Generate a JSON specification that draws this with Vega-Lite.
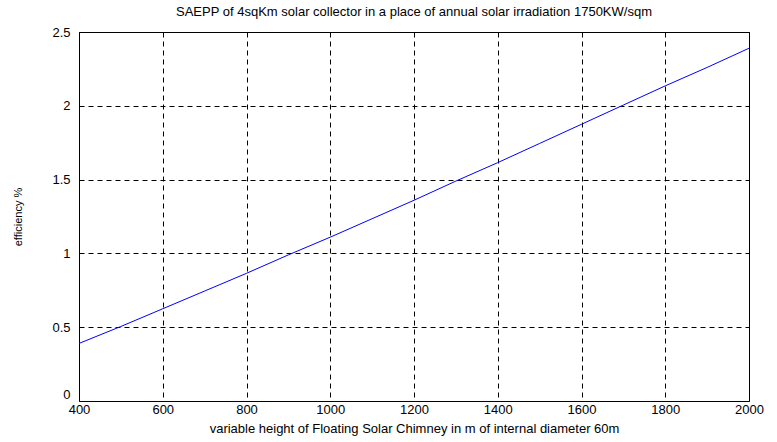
{
  "$schema": "https://vega.github.io/schema/vega-lite/v6.json",
  "width": 670,
  "height": 369,
  "autosize": "none",
  "padding": {"left": 79, "top": 32, "right": 28, "bottom": 41},
  "background": "white",
  "title": {
    "text": "SAEPP of 4sqKm  solar collector in a place of annual solar irradiation 1750KW/sqm",
    "font": "Liberation Sans",
    "fontSize": 13,
    "fontWeight": "normal",
    "color": "black",
    "anchor": "middle",
    "baseline": "bottom",
    "offset": -6
  },
  "config": {
    "view": {"stroke": "black", "strokeWidth": 1}
  },
  "data": {
    "values": [
      {"h": 400, "eff": 0.39},
      {"h": 500, "eff": 0.505},
      {"h": 600, "eff": 0.625},
      {"h": 700, "eff": 0.745},
      {"h": 800, "eff": 0.865},
      {"h": 900, "eff": 0.99},
      {"h": 1000, "eff": 1.11},
      {"h": 1100, "eff": 1.235},
      {"h": 1200, "eff": 1.36},
      {"h": 1300, "eff": 1.49},
      {"h": 1400, "eff": 1.615},
      {"h": 1500, "eff": 1.745},
      {"h": 1600, "eff": 1.875},
      {"h": 1700, "eff": 2.005},
      {"h": 1800, "eff": 2.135},
      {"h": 1900, "eff": 2.26},
      {"h": 2000, "eff": 2.39}
    ]
  },
  "mark": {"type": "line", "color": "#0000ff", "strokeWidth": 1, "clip": true},
  "encoding": {
    "x": {
      "field": "h",
      "type": "quantitative",
      "scale": {"domain": [400, 2000], "nice": false, "zero": false},
      "axis": {
        "title": "variable height of Floating Solar Chimney in m  of internal diameter 60m",
        "values": [400, 600, 800, 1000, 1200, 1400, 1600, 1800, 2000],
        "format": "d",
        "grid": true,
        "gridColor": "black",
        "gridOpacity": 1,
        "gridDash": [5, 4],
        "gridWidth": 1,
        "domain": false,
        "ticks": false,
        "labelFont": "Liberation Sans",
        "labelFontSize": 13,
        "labelColor": "black",
        "labelPadding": 2,
        "labelFlush": false,
        "titleFont": "Liberation Sans",
        "titleFontSize": 13,
        "titleFontWeight": "normal",
        "titleColor": "black",
        "titlePadding": 6
      }
    },
    "y": {
      "field": "eff",
      "type": "quantitative",
      "scale": {"domain": [0, 2.5], "nice": false},
      "axis": {
        "title": "efficiency %",
        "values": [0, 0.5, 1, 1.5, 2, 2.5],
        "format": "~g",
        "grid": true,
        "gridColor": "black",
        "gridOpacity": 1,
        "gridDash": [5, 4],
        "gridWidth": 1,
        "domain": false,
        "ticks": false,
        "labelFont": "Liberation Sans",
        "labelFontSize": 13,
        "labelColor": "black",
        "labelPadding": 9,
        "labelFlush": false,
        "labelOffset": {"condition": {"test": "datum.value === 0", "value": -7}, "value": 0},
        "titleFont": "Liberation Sans",
        "titleFontSize": 11,
        "titleFontWeight": "normal",
        "titleColor": "black",
        "titlePadding": 28
      }
    }
  }
}
